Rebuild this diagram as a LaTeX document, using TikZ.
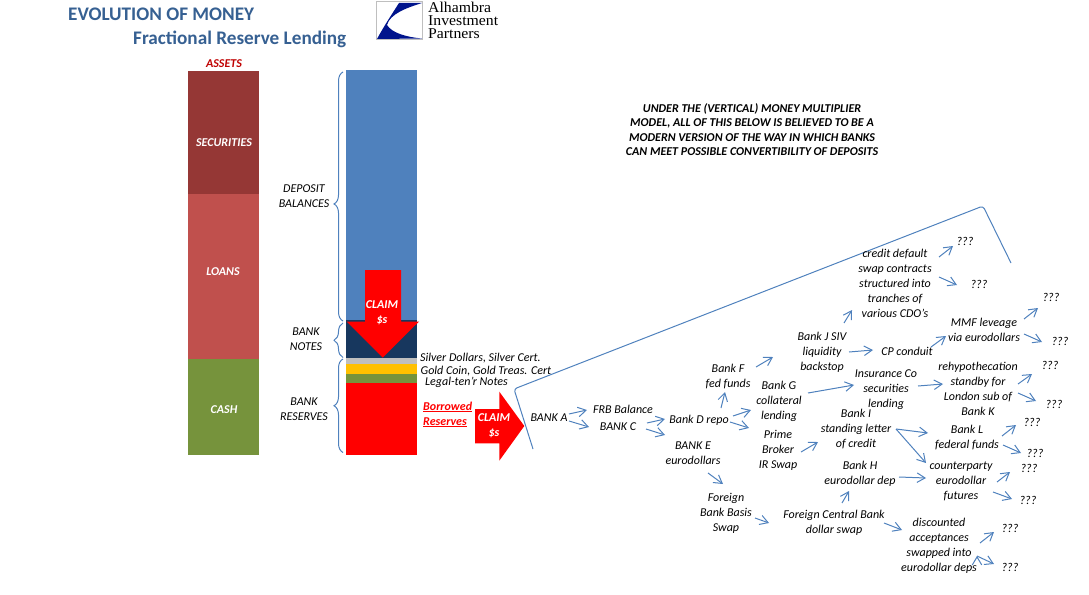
\documentclass[tikz,border=0pt]{standalone}
\usepackage{fontspec}
\setmainfont{Carlito}
\newfontfamily\logofont[FakeStretch=1.05]{Liberation Serif}
\usetikzlibrary{arrows.meta,decorations.pathreplacing}
\definecolor{linkblue}{RGB}{79,129,189}
\definecolor{titleblue}{RGB}{54,96,146}
\definecolor{darkred}{RGB}{149,55,53}
\definecolor{midred}{RGB}{192,80,77}
\definecolor{olive}{RGB}{118,147,60}
\definecolor{navy}{RGB}{23,55,94}
\definecolor{gold}{RGB}{255,192,0}
\definecolor{logoblue}{RGB}{0,20,140}

\begin{document}
\begin{tikzpicture}[x=1pt,y=-1pt,>={Straight Barb[length=8pt,width=9.5pt]},
  main node/.style={align=center,inner sep=0pt,font=\fontsize{12}{15}\selectfont\itshape},
  left node/.style={main node,anchor=west,align=left},
  head node/.style={main node,font=\fontsize{12}{14.6}\selectfont\itshape\bfseries},
  claim node/.style={main node,text=white,font=\fontsize{12}{14.6}\selectfont\itshape\bfseries},
  title node/.style={anchor=west,inner sep=0pt,text=titleblue,font=\fontsize{19.2}{20}\selectfont\bfseries},
  logo node/.style={anchor=west,align=left,inner sep=0pt,font=\fontsize{15}{12.8}\selectfont\logofont},
  flow/.style={->,draw=linkblue,line width=1pt},
  bar brace/.style={draw=linkblue,line width=1pt,decorate,decoration={brace,amplitude=9pt}}]
  \useasboundingbox (0,0) rectangle (1089,594);

  \node[title node] (evolution) at (68,14.5) {EVOLUTION OF MONEY};
  \node[title node] (fractional) at (133,39.5) {Fractional Reserve Lending};

  \draw[lightgray,fill=white,line width=0.8pt] (376,1.5) rectangle (422,39);
  \fill[logoblue] (377,39) .. controls (384,26) and (392,14) .. (399,3) -- (422,3)
    .. controls (406,8) and (390,14) .. (387,25) .. controls (392,33) and (406,37) .. (422,38.5) -- cycle;
  \node[logo node] (logo) at (428,20.5) {Alhambra\\Investment\\Partners};

  \node[head node,text=red!75!black] (assets) at (224,64) {ASSETS};
  \fill[darkred] (188,71) rectangle (259,194);
  \fill[midred] (188,194) rectangle (259,359);
  \fill[olive] (188,359) rectangle (259,455);
  \node[claim node] (securities) at (224,143) {SECURITIES};
  \node[claim node] (loans) at (223,272) {LOANS};
  \node[claim node] (cash) at (224,410) {CASH};

  \fill[linkblue] (346,70) rectangle (417,320);
  \fill[navy] (346,320) rectangle (417,358);
  \fill[lightgray] (346,358) rectangle (417,363.5);
  \fill[gold] (346,363.5) rectangle (417,374);
  \fill[olive] (346,374) rectangle (417,383);
  \fill[red] (346,383) rectangle (417,455);

  \draw[bar brace,decoration={aspect=0.47}] (343,321) -- (343,72);
  \draw[bar brace] (343,357.5) -- (343,323);
  \draw[bar brace] (343,452.5) -- (343,359);
  \node[main node] (deposit) at (304,196.5) {DEPOSIT\\BALANCES};
  \node[main node] (notes) at (306,339.5) {BANK\\NOTES};
  \node[main node] (reserves) at (304,409.5) {BANK\\RESERVES};

  \fill[red] (365,270) -- (401,270) -- (401,321.5) -- (419,321.5) -- (382.7,357.7)
    -- (346.7,321.5) -- (365,321.5) -- cycle;
  \node[claim node] (claimdown) at (382,313) {CLAIM\\\$s};
  \fill[red] (475,409) -- (499.3,409) -- (499.3,391.7) -- (524.3,426) -- (499.3,460.7)
    -- (499.3,443.3) -- (475,443.3) -- cycle;
  \node[claim node] (claimright) at (494,425.5) {CLAIM\\\$s};

  \node[left node] (silver) at (420,358.5) {Silver Dollars, Silver Cert.};
  \node[left node] (goldcoin) at (420.5,371.5) {Gold Coin, Gold Treas. Cert};
  \node[left node] (legal) at (425,382.5) {Legal-ten'r Notes};
  \node[left node,text=red,font=\fontsize{12}{15}\selectfont\itshape\bfseries] (borrowed) at (423,414.5)
    {\underline{Borrowed}\\\underline{Reserves}};

  \node[head node] (under) at (752,129.5) {UNDER THE (VERTICAL) MONEY MULTIPLIER\\MODEL, ALL OF THIS BELOW IS BELIEVED TO BE A\\MODERN VERSION OF THE WAY IN WHICH BANKS\\CAN MEET POSSIBLE CONVERTIBILITY OF DEPOSITS};

  \draw[linkblue,line width=1pt,rounded corners=3pt] (533,449) -- (514,389) -- (983,206) -- (1011,263);

  \node[main node] (bankA) at (549,418) {BANK A};
  \node[main node] (frb) at (623,409) {FRB Balance};
  \node[main node] (bankC) at (618,427) {BANK C};
  \node[main node] (bankD) at (699,420) {Bank D repo};
  \node[main node] (bankE) at (693,453.5) {BANK E\\eurodollars};
  \node[main node] (bankF) at (728,377) {Bank F\\fed funds};
  \node[main node] (bankG) at (779,401) {Bank G\\collateral\\lending};
  \node[main node] (prime) at (778,450) {Prime\\Broker\\IR Swap};
  \node[main node] (basis) at (726,513) {Foreign\\Bank Basis\\Swap};
  \node[main node] (cds) at (895,283) {credit default\\swap contracts\\structured into\\tranches of\\various CDO's};
  \node[main node] (bankJ) at (822,352) {Bank J SIV\\liquidity\\backstop};
  \node[main node] (conduit) at (907,351) {CP conduit};
  \node[main node] (mmf) at (984,330) {MMF leveage\\via eurodollars};
  \node[main node] (insurance) at (886,390) {Insurance Co\\securities\\lending};
  \node[main node] (rehyp) at (978,389) {rehypothecation\\standby for\\London sub of\\Bank K};
  \node[main node] (bankI) at (856,429) {Bank I\\standing letter\\of credit};
  \node[main node] (bankL) at (967,438) {Bank L\\federal funds};
  \node[main node] (futures) at (961,481) {counterparty\\eurodollar\\futures};
  \node[main node] (bankH) at (860,474) {Bank H\\eurodollar dep};
  \node[main node] (central) at (834,523) {Foreign Central Bank\\dollar swap};
  \node[main node] (discount) at (939,546) {discounted\\acceptances\\swapped into\\eurodollar deps};
  \node[main node] (q1) at (965,241) {???};
  \node[main node] (q2) at (979,284) {???};
  \node[main node] (q3) at (1051,297) {???};
  \node[main node] (q4) at (1060,341) {???};
  \node[main node] (q5) at (1050,365) {???};
  \node[main node] (q6) at (1054,404) {???};
  \node[main node] (q7) at (1032,422) {???};
  \node[main node] (q8) at (1035,453) {???};
  \node[main node] (q9) at (1029,468) {???};
  \node[main node] (q10) at (1028,500) {???};
  \node[main node] (q11) at (1010,528) {???};
  \node[main node] (q12) at (1010,567) {???};

  \path[flow]
    ([shift={(20,-4)}]bankA.center) edge ([shift={(-36,1)}]frb.center)
    ([shift={(20,3)}]bankA.center) edge ([shift={(-29,0)}]bankC.center)
    ([shift={(29,-4)}]bankC.center) edge ([shift={(-34,-1)}]bankD.center)
    ([shift={(28,2)}]bankC.center) edge ([shift={(-28,-18.5)}]bankE.center)
    ([shift={(22,-12)}]bankD.center) edge ([shift={(-3,15)}]bankF.center)
    ([shift={(34,-4)}]bankD.center) edge ([shift={(-28,9)}]bankG.center)
    ([shift={(31,2)}]bankD.center) edge ([shift={(-29,-22)}]prime.center)
    ([shift={(28,-10)}]bankF.center) edge ([shift={(-49,5)}]bankJ.center)
    ([shift={(15,19.5)}]bankE.center) edge ([shift={(-3,-29)}]basis.center)
    ([shift={(29,5)}]basis.center) edge ([shift={(-65,0)}]central.center)
    ([shift={(44,-26)}]cds.center) edge ([shift={(-12,5)}]q1.center)
    ([shift={(44,-6)}]cds.center) edge ([shift={(-22,1)}]q2.center)
    ([shift={(22,-29)}]bankJ.center) edge ([shift={(-43,27)}]cds.center)
    ([shift={(27,0)}]bankJ.center) edge ([shift={(-34,-1)}]conduit.center)
    ([shift={(24,-4)}]conduit.center) edge ([shift={(-38,6)}]mmf.center)
    ([shift={(40,-11)}]mmf.center) edge ([shift={(-13,11)}]q3.center)
    ([shift={(40,4)}]mmf.center) edge ([shift={(-18,1)}]q4.center)
    ([shift={(29,-8)}]bankG.center) edge ([shift={(-32,-5)}]insurance.center)
    ([shift={(32,-4)}]insurance.center) edge ([shift={(-35,-5)}]rehyp.center)
    ([shift={(40,-5)}]rehyp.center) edge ([shift={(-18,9)}]q5.center)
    ([shift={(40,4)}]rehyp.center) edge ([shift={(-18,-3)}]q6.center)
    ([shift={(23,2)}]prime.center) edge ([shift={(-38,13)}]bankI.center)
    ([shift={(40,0)}]bankI.center) edge ([shift={(-39,-5)}]bankL.center)
    ([shift={(40,0)}]bankI.center) edge ([shift={(-35,-18)}]futures.center)
    ([shift={(35,-2)}]bankL.center) edge ([shift={(-16,3)}]q7.center)
    ([shift={(36,7)}]bankL.center) edge ([shift={(-14,0)}]q8.center)
    ([shift={(39,3)}]bankH.center) edge ([shift={(-35,-3)}]futures.center)
    ([shift={(36,1)}]futures.center) edge ([shift={(-19,4)}]q9.center)
    ([shift={(32,11)}]futures.center) edge ([shift={(-16,-1)}]q10.center)
    ([shift={(8,-20)}]central.center) edge ([shift={(-11,17)}]bankH.center)
    ([shift={(50,0)}]central.center) edge ([shift={(-37,-16)}]discount.center)
    ([shift={(41,-3)}]discount.center) edge ([shift={(-16,4)}]q11.center)
    ([shift={(38,10)}]discount.center) edge ([shift={(-16,-3)}]q12.center);
\end{tikzpicture}
\end{document}
